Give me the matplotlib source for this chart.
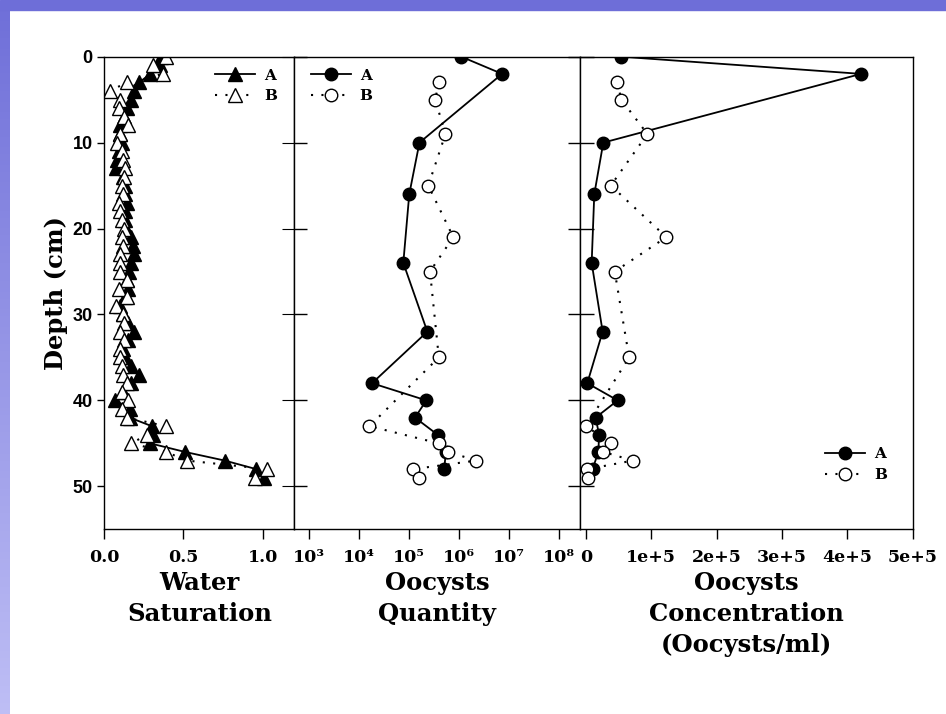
import numpy as np
import matplotlib
matplotlib.use('Agg')
import matplotlib.pyplot as plt
from matplotlib.ticker import NullLocator

# water saturation, one reading per cm
depth_ws = list(range(50))
ws_a = [0.36, 0.35, 0.29, 0.22, 0.19, 0.17, 0.14, 0.125, 0.10, 0.10,
        0.11, 0.095, 0.08, 0.075, 0.12, 0.13, 0.13, 0.14, 0.13, 0.13,
        0.135, 0.17, 0.18, 0.19, 0.17, 0.155, 0.145, 0.15, 0.13, 0.10,
        0.12, 0.15, 0.19, 0.15, 0.12, 0.13, 0.17, 0.22, 0.17, 0.12,
        0.07, 0.16, 0.16, 0.30, 0.31, 0.29, 0.51, 0.76, 0.96, 1.01]
ws_b = [0.39, 0.31, 0.37, 0.14, 0.036, 0.10, 0.095, 0.125, 0.15, 0.10,
        0.08, 0.11, 0.12, 0.13, 0.125, 0.11, 0.12, 0.095, 0.10, 0.11,
        0.125, 0.11, 0.12, 0.10, 0.10, 0.10, 0.14, 0.095, 0.14, 0.074,
        0.12, 0.125, 0.10, 0.125, 0.10, 0.10, 0.11, 0.12, 0.14, 0.11,
        0.15, 0.11, 0.14, 0.39, 0.27, 0.17, 0.39, 0.52, 1.03, 0.95]

# oocysts, core A
depth_a = [0, 2, 10, 16, 24, 32, 38, 40, 42, 44, 46, 48]
qty_a = [1.1e6, 7.2e6, 1.6e5, 1.0e5, 7.6e4, 2.3e5, 1.8e4, 2.2e5, 1.3e5,
         3.7e5, 5.4e5, 5.0e5]
conc_a = [5.4e4, 4.21e5, 2.65e4, 1.27e4, 8.7e3, 2.55e4, 2.0e3, 4.85e4,
          1.48e4, 2.0e4, 1.9e4, 1.0e4]

# oocysts, core B
depth_b = [3, 5, 9, 15, 21, 25, 35, 43, 45, 46, 47, 48, 49]
qty_b = [3.9e5, 3.3e5, 5.3e5, 2.4e5, 7.6e5, 2.6e5, 3.9e5, 1.6e4, 3.9e5,
         6.0e5, 2.2e6, 1.2e5, 1.6e5]
conc_b = [4.8e4, 5.4e4, 9.4e4, 3.8e4, 1.23e5, 4.4e4, 6.6e4, 0, 3.9e4,
          2.65e4, 7.2e4, 2.0e3, 2.6e3]

depth_ticks = [0, 10, 20, 30, 40, 50]
qty_ticks = [1e3, 1e4, 1e5, 1e6, 1e7, 1e8]
qty_labels = ['10³', '10⁴', '10⁵', '10⁶', '10⁷', '10⁸']
conc_ticks = [0, 1e5, 2e5, 3e5, 4e5, 5e5]
conc_labels = ['0', '1e+5', '2e+5', '3e+5', '4e+5', '5e+5']

SERIF = ['DejaVu Serif', 'DejaVu Sans']
lab_font = dict(family=SERIF, weight='bold', size=17.5)
dotted = (0, (1, 4))

fig = plt.figure(figsize=(9.46, 7.14), dpi=100)
fig.patch.set_facecolor('white')

# slide decoration: blue band on top, gradient strip on the left
band = plt.Rectangle((0, 1 - 10 / 714), 1, 10 / 714, transform=fig.transFigure,
                     color='#6e6ed8', zorder=0)
fig.patches.append(band)
strip = fig.add_axes([0, 0, 9 / 946, 1 - 10 / 714])
grad = np.linspace(0, 1, 200).reshape(-1, 1)
top_c = np.array([0x70, 0x70, 0xd9]) / 255
bot_c = np.array([0xbe, 0xbe, 0xf5]) / 255
img = top_c[None, None, :] * (1 - grad[:, :, None]) + bot_c[None, None, :] * grad[:, :, None]
strip.imshow(img, aspect='auto')
strip.axis('off')

bottom, height = 0.2587, 0.6619
ax1 = fig.add_axes([0.1103, bottom, 0.2008, height])
ax2 = fig.add_axes([0.3111, bottom, 0.3017, height])
ax3 = fig.add_axes([0.6128, bottom, 0.3520, height])

# panel 1: water saturation
ax1.plot(ws_a, depth_ws, color='black', lw=1.3, marker='^', ms=9.5,
         mfc='black', mec='black', label='A')
ax1.plot(ws_b, depth_ws, color='black', lw=1.5, ls=dotted, marker='^', ms=9.5,
         mfc='white', mec='black', mew=1, label='B')
ax1.set_xlim(0, 1.2)
ax1.set_xticks([0, 0.5, 1.0])
ax1.set_xticklabels(['0.0', '0.5', '1.0'])
ax1.set_xlabel('Water\nSaturation', linespacing=1.35, labelpad=4, **lab_font)
ax1.set_ylabel('Depth (cm)', labelpad=3, **lab_font)

# panel 2: oocyst quantity (log)
ax2.plot(qty_a, depth_a, color='black', lw=1.3, marker='o', ms=9,
         mfc='black', mec='black', label='A')
ax2.plot(qty_b, depth_b, color='black', lw=1.5, ls=dotted, marker='o', ms=9,
         mfc='white', mec='black', mew=1, label='B')
ax2.set_xscale('log')
ax2.set_xlim(10 ** 2.7, 10 ** 8.41)
ax2.set_xticks(qty_ticks)
ax2.set_xticklabels(qty_labels)
ax2.xaxis.set_minor_locator(NullLocator())
ax2.set_xlabel('Oocysts\nQuantity', linespacing=1.35, labelpad=4, **lab_font)

# panel 3: oocyst concentration
ax3.plot(conc_a, depth_a, color='black', lw=1.3, marker='o', ms=9,
         mfc='black', mec='black', label='A')
ax3.plot(conc_b, depth_b, color='black', lw=1.5, ls=dotted, marker='o', ms=9,
         mfc='white', mec='black', mew=1, label='B')
ax3.set_xlim(-9.6e3, 5e5)
ax3.set_xticks(conc_ticks)
ax3.set_xticklabels(conc_labels)
ax3.set_xlabel('Oocysts\nConcentration\n(Oocysts/ml)', linespacing=1.35,
               labelpad=4, **lab_font)

for ax in (ax1, ax2, ax3):
    ax.set_ylim(55, 0)
    ax.set_yticks(depth_ticks)
    for s in ax.spines.values():
        s.set_linewidth(1.0)
    ax.tick_params(axis='x', direction='out', length=7, width=1, pad=7)
    for t in ax.get_xticklabels():
        t.set_family(SERIF)
        t.set_weight('bold')
        t.set_size(12.5)

# depth ticks: outward on the far left, inward on the shared borders
ax1.tick_params(axis='y', direction='out', length=5, width=1, left=True,
                right=False, labelleft=True)
for t in ax1.get_yticklabels():
    t.set_family(['Liberation Sans', 'DejaVu Sans'])
    t.set_weight('bold')
    t.set_size(13)
ax1r = ax1.secondary_yaxis('right')
ax1r.set_yticks(depth_ticks)
ax1r.tick_params(direction='in', length=9, labelright=False)
ax1r.spines['right'].set_visible(False)

ax2.tick_params(axis='y', direction='in', length=9, width=1, left=True,
                right=True, labelleft=False)
ax3.tick_params(axis='y', direction='in', length=10, width=1, left=True,
                right=False, labelleft=False)

leg_kw = dict(frameon=False, handlelength=2.6, handletextpad=0.6,
              labelspacing=0.45, borderpad=0, borderaxespad=0,
              prop=dict(family=SERIF, weight='bold', size=11))
ax1.legend(loc='upper left', bbox_to_anchor=(0.585, 0.975), **leg_kw)
ax2.legend(loc='upper left', bbox_to_anchor=(0.058, 0.975), **leg_kw)
ax3.legend(loc='upper left', bbox_to_anchor=(0.738, 0.174), **leg_kw)

fig.savefig('out.png', dpi=100)
